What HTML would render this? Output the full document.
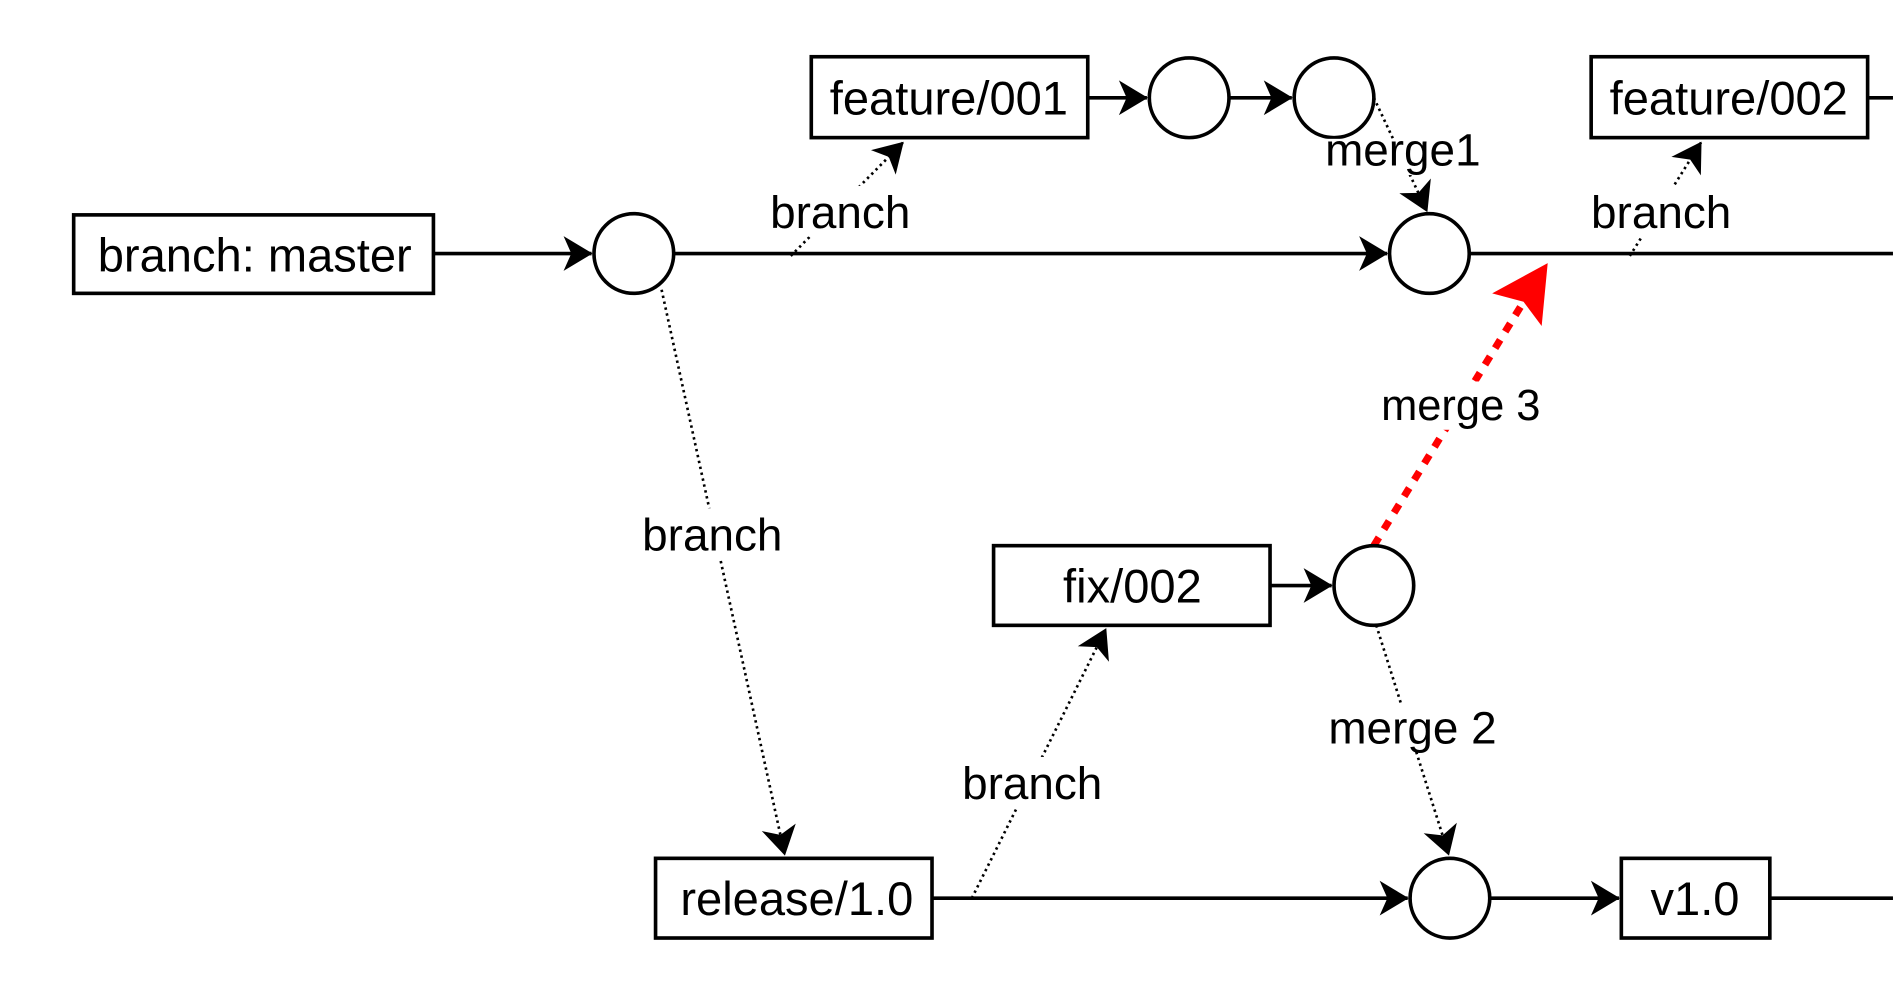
<!DOCTYPE html>
<html><head><style>html,body{margin:0;padding:0;background:#fff}svg{display:block}</style></head>
<body>
<svg width="1893" height="1002" viewBox="0 0 1568 830" xmlns="http://www.w3.org/2000/svg" font-family="Liberation Sans, Helvetica, sans-serif">
<defs>
<marker id="a" viewBox="0 0 10 10" refX="9" refY="5" markerWidth="8" markerHeight="8" markerUnits="userSpaceOnUse" orient="auto" overflow="visible">
<path d="M-20,-13 L10,5 L-20,23 L-12,5 Z" fill="#000"/>
</marker>
</defs>
<g stroke="#000" stroke-width="3" fill="none">
<line x1="359" y1="210" x2="490" y2="210" marker-end="url(#a)"/>
<line x1="558" y1="210" x2="1149" y2="210" marker-end="url(#a)"/>
<line x1="1217" y1="210" x2="1568" y2="210"/>
<line x1="901" y1="81" x2="950" y2="81" marker-end="url(#a)"/>
<line x1="1018" y1="81" x2="1070" y2="81" marker-end="url(#a)"/>
<line x1="1547" y1="81" x2="1568" y2="81"/>
<line x1="772" y1="744" x2="1166" y2="744" marker-end="url(#a)"/>
<line x1="1234" y1="744" x2="1341" y2="744" marker-end="url(#a)"/>
<line x1="1466" y1="744" x2="1568" y2="744"/>
<line x1="1052" y1="485" x2="1103" y2="485" marker-end="url(#a)"/>
</g>
<g stroke="#000" stroke-width="2.2" stroke-dasharray="2,3" fill="none">
<line x1="655" y1="212" x2="748" y2="118" marker-end="url(#a)"/>
<line x1="1350" y1="212" x2="1409" y2="118" marker-end="url(#a)"/>
<line x1="1138" y1="81" x2="1182" y2="175" marker-end="url(#a)"/>
<line x1="548" y1="240" x2="650" y2="708" marker-end="url(#a)"/>
<line x1="805" y1="744" x2="916" y2="521" marker-end="url(#a)"/>
<line x1="1140" y1="518" x2="1200" y2="708" marker-end="url(#a)"/>
</g>
<line x1="1138" y1="452" x2="1262" y2="250" stroke="#f00" stroke-width="6" stroke-dasharray="8,8"/>
<path d="M1282,218 L1236,243 L1262,250 L1277,270 Z" fill="#f00"/>
<g stroke="#000" stroke-width="3" fill="#fff">
<rect x="61" y="178" width="298" height="65"/>
<rect x="672" y="47" width="229" height="67"/>
<rect x="1318" y="47" width="229" height="67"/>
<rect x="823" y="452" width="229" height="66"/>
<rect x="543" y="711" width="229" height="66"/>
<rect x="1343" y="711" width="123" height="66"/>
<circle cx="525" cy="210" r="33"/>
<circle cx="1184" cy="210" r="33"/>
<circle cx="985" cy="81" r="33"/>
<circle cx="1105" cy="81" r="33"/>
<circle cx="1138" cy="485" r="33"/>
<circle cx="1201" cy="744" r="33"/>
</g>
<g font-size="39" text-anchor="middle" fill="#000">
<text x="211" y="225">branch: master</text>
<text x="786" y="95">feature/001</text>
<text x="1432" y="95">feature/002</text>
<text x="938" y="499">fix/002</text>
<text x="660" y="758">release/1.0</text>
<text x="1404" y="758">v1.0</text>
</g>
<g font-size="38" text-anchor="middle" fill="#000">
<rect x="636" y="154" width="120" height="42" fill="#fff"/><text x="696" y="189">branch</text>
<rect x="1316" y="154" width="120" height="42" fill="#fff"/><text x="1376" y="189">branch</text>
<rect x="530" y="421" width="120" height="42" fill="#fff"/><text x="590" y="456">branch</text>
<rect x="795" y="627" width="120" height="42" fill="#fff"/><text x="855" y="662">branch</text>
<rect x="1098" y="115" width="128" height="30" fill="#fff"/><text x="1162" y="137">merge1</text>
<rect x="1097" y="583" width="146" height="40" fill="#fff"/><text x="1170" y="616">merge 2</text>
<rect x="1143" y="316" width="134" height="40" fill="#fff"/><text x="1210" y="348" font-size="36">merge 3</text>
</g>
</svg>
</body></html>
